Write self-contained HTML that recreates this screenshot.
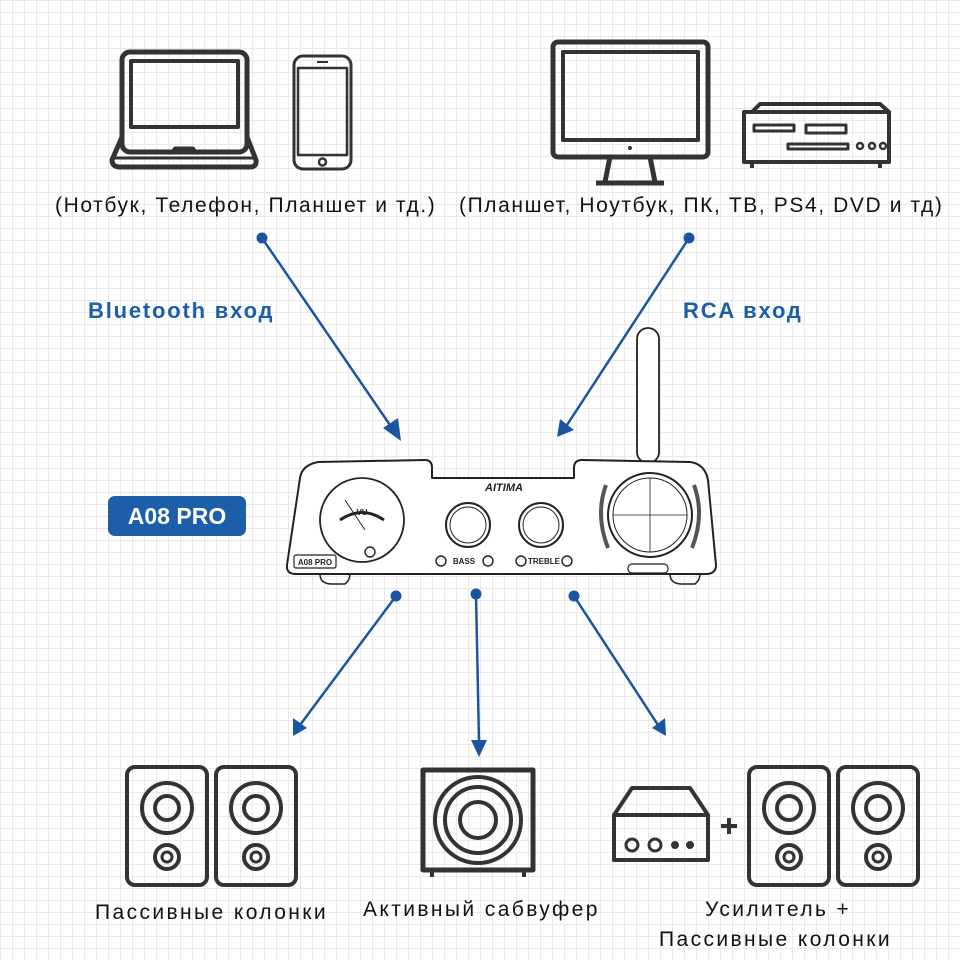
<!DOCTYPE html>
<html><head><meta charset="utf-8"><style>
html,body{margin:0;padding:0}
body{width:960px;height:960px;position:relative;overflow:hidden;background:#fff;
background-image:linear-gradient(#e9e9e9 1px,transparent 1px),linear-gradient(90deg,#e9e9e9 1px,transparent 1px);background-size:12px 12px;font-family:"Liberation Sans","DejaVu Sans",sans-serif}
.t{position:absolute;color:#111;font-size:21px;white-space:nowrap;letter-spacing:1.6px}
.bt{letter-spacing:2.4px}
.b{position:absolute;color:#1c5ea8;font-weight:bold;font-size:22px;white-space:nowrap;letter-spacing:1.8px}
</style></head><body>
<svg width="960" height="960" style="position:absolute;left:0;top:0" fill="none" stroke="#333" stroke-width="5" stroke-linejoin="round">
<rect x="122" y="52" width="125" height="100" rx="8"/>
<rect x="131" y="61" width="107" height="66" stroke-width="4"/>
<path d="M122 137 L112 160 Q112 167 120 167 L250 167 Q257 167 256 160 L247 137"/>
<path d="M115 158 L254 158" stroke-width="3"/>
<path d="M170 154 L175 148 L193 148 L198 154" stroke-width="3"/>
<rect x="294" y="56" width="57" height="113" rx="9" stroke-width="3"/>
<rect x="298" y="68" width="49" height="87" stroke-width="2.5"/>
<circle cx="322.5" cy="162" r="3.5" stroke-width="2.5"/>
<path d="M317 62 L328 62" stroke-width="2"/>
<rect x="553" y="42" width="155" height="115" rx="5"/>
<rect x="563" y="52" width="135" height="88" stroke-width="4"/>
<path d="M610 157 L605 182 M650 157 L655 182 M596 183 L664 183"/>
<circle cx="630" cy="148" r="2" fill="#333" stroke="none"/>
<rect x="744" y="112" width="145" height="50" stroke-width="4"/>
<path d="M752 112 L760 104 L880 104 L889 112" stroke-width="4"/>
<path d="M752 162 L752 168 M880 162 L880 168" stroke-width="4"/>
<rect x="754" y="125" width="40" height="6" stroke-width="3"/>
<rect x="806" y="125" width="40" height="8" stroke-width="3"/>
<rect x="788" y="144" width="60" height="5" stroke-width="3"/>
<circle cx="860" cy="146" r="3" stroke-width="2.5"/><circle cx="872" cy="146" r="3" stroke-width="2.5"/><circle cx="883" cy="146" r="3" stroke-width="2.5"/>
<g stroke="#1a55a0" stroke-width="2.5">
<line x1="262" y1="238" x2="392" y2="428"/>
<line x1="689" y1="238" x2="565" y2="428"/>
<line x1="396" y1="596" x2="300" y2="725"/>
<line x1="476" y1="594" x2="479" y2="742"/>
<line x1="574" y1="596" x2="658" y2="725"/>
</g>
<g fill="#1a55a0" stroke="none">
<circle cx="262" cy="238" r="5.5"/><circle cx="689" cy="238" r="5.5"/>
<circle cx="396" cy="596" r="5.5"/><circle cx="476" cy="594" r="5.5"/><circle cx="574" cy="596" r="5.5"/>
<polygon points="401,441 383,428 398,418"/>
<polygon points="557,437 560,419 574,430"/>
<polygon points="293,736 293,718 307,728"/>
<polygon points="479,757 471,740 487,740"/>
<polygon points="666,736 652,728 665,718"/>
</g>
<g stroke="#222" stroke-width="2">
<rect x="637" y="328" width="22" height="135" rx="11" fill="#fff" stroke-width="1.8"/>
<path d="M300 478 Q302 465 318 462 L425 460 Q432 460 432 468 L432 478 L574 478 L574 468 Q574 460 582 460 L690 462 Q705 464 708 480 L716 565 Q716 574 706 574 L296 574 Q286 574 287 565 Z" fill="#fff"/>
<circle cx="362" cy="520" r="42" stroke-width="1.8"/>
<circle cx="468" cy="525" r="22"/><circle cx="468" cy="525" r="18" stroke-width="1"/>
<circle cx="541" cy="525" r="22"/><circle cx="541" cy="525" r="18" stroke-width="1"/>
<circle cx="650" cy="515" r="42"/><circle cx="650" cy="515" r="37" stroke-width="1"/>
<path d="M650 478 L650 552 M613 515 L687 515" stroke-width="0.8"/>
<path d="M606 485 Q595 515 608 548 M694 485 Q705 515 692 548" stroke-width="4" stroke="#555"/>
<rect x="294" y="555" width="42" height="13" rx="2" stroke-width="1.2"/>
<rect x="628" y="564" width="40" height="9" rx="4" stroke-width="1.2"/>
<path d="M320 574 Q320 584 332 584 L345 584 Q350 580 350 574 M670 574 Q670 584 682 584 L695 584 Q700 580 700 574" stroke-width="1.5"/>
<circle cx="441" cy="561" r="5" stroke-width="1.4"/><circle cx="488" cy="561" r="5" stroke-width="1.4"/>
<circle cx="521" cy="561" r="5" stroke-width="1.4"/><circle cx="567" cy="561" r="5" stroke-width="1.4"/>
<path d="M340 520 Q362 505 384 520" stroke-width="3"/>
<path d="M345 500 L365 530" stroke-width="1"/>
<circle cx="370" cy="552" r="5" stroke-width="1.4"/>
</g>
<g fill="#222" stroke="none" font-family="Liberation Sans,sans-serif" font-weight="bold">
<text x="315" y="565" font-size="8" text-anchor="middle">A08 PRO</text>
<text x="504" y="491" font-size="11" font-style="italic" text-anchor="middle">AITIMA</text>
<text x="464" y="564" font-size="8" text-anchor="middle">BASS</text>
<text x="544" y="564" font-size="8" text-anchor="middle">TREBLE</text>
<text x="362" y="515" font-size="8" text-anchor="middle">VU</text>
</g>
<g stroke="#333" stroke-width="4">
<rect x="127" y="767" width="80" height="118" rx="8"/>
<circle cx="167" cy="808" r="25"/><circle cx="167" cy="808" r="12"/>
<circle cx="167" cy="857" r="12"/><circle cx="167" cy="857" r="5" stroke-width="3"/>
<rect x="216" y="767" width="80" height="118" rx="8"/>
<circle cx="256" cy="808" r="25"/><circle cx="256" cy="808" r="12"/>
<circle cx="256" cy="857" r="12"/><circle cx="256" cy="857" r="5" stroke-width="3"/>
<rect x="423" y="770" width="110" height="100" stroke-width="5"/>
<circle cx="478" cy="820" r="43"/><circle cx="478" cy="820" r="33"/><circle cx="478" cy="820" r="18"/>
<path d="M432 870 L432 877 M524 870 L524 877"/>
<path d="M614 860 L614 815 L632 788 L690 788 L708 815 L708 860 Z"/>
<path d="M614 815 L708 815"/>
<circle cx="632" cy="845" r="6" stroke-width="3"/><circle cx="655" cy="845" r="6" stroke-width="3"/>
<circle cx="675" cy="845" r="2" fill="#333"/><circle cx="690" cy="845" r="2" fill="#333"/>
<path d="M721 826 L737 826 M729 818 L729 834" stroke-width="4"/>
<rect x="749" y="767" width="80" height="118" rx="8"/>
<circle cx="789" cy="808" r="25"/><circle cx="789" cy="808" r="12"/>
<circle cx="789" cy="857" r="12"/><circle cx="789" cy="857" r="5" stroke-width="3"/>
<rect x="838" y="767" width="80" height="118" rx="8"/>
<circle cx="878" cy="808" r="25"/><circle cx="878" cy="808" r="12"/>
<circle cx="878" cy="857" r="12"/><circle cx="878" cy="857" r="5" stroke-width="3"/>
</g>
</svg>
<div class="t" style="left:55px;top:194px">(Нотбук, Телефон, Планшет и тд.)</div>
<div class="t" style="left:459px;top:194px">(Планшет, Ноутбук, ПК, ТВ, PS4, DVD и тд)</div>
<div class="b" style="left:88px;top:298px">Bluetooth вход</div>
<div class="b" style="left:683px;top:298px">RCA вход</div>
<div style="position:absolute;left:108px;top:496px;width:138px;height:40px;background:#1c5ea8;border-radius:7px;color:#fff;font-weight:bold;font-size:23px;line-height:40px;text-align:center">A08 PRO</div>
<div class="t bt" style="left:95px;top:901px">Пассивные колонки</div>
<div class="t bt" style="left:363px;top:898px">Активный сабвуфер</div>
<div class="t bt" style="left:705px;top:898px">Усилитель +</div>
<div class="t bt" style="left:659px;top:928px">Пассивные колонки</div>
</body></html>
